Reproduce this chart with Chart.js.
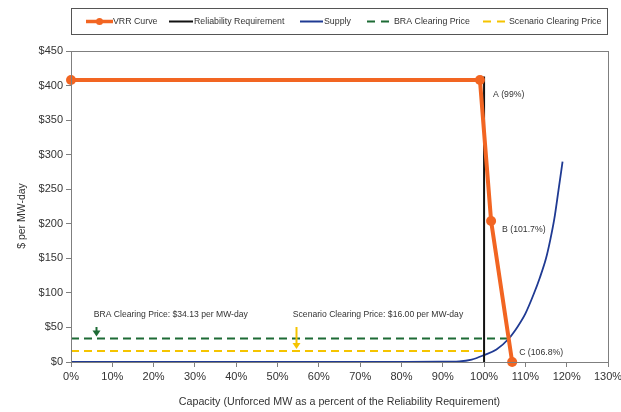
<!DOCTYPE html>
<html>
<head>
<meta charset="utf-8">
<script src="https://cdn.jsdelivr.net/npm/chart.js@4.4.0/dist/chart.umd.min.js"></script>
<style>
  html, body { margin: 0; padding: 0; background: #fff; }
  #wrap { position: relative; width: 621px; height: 412px; }
</style>
</head>
<body>
<div id="wrap"><canvas id="vrrChart" width="621" height="412"></canvas></div>
<script>
// Datos de la curva VRR (porcentaje del requisito, $/MW-day)
const vrrX = [0, 99, 101.7, 106.8];
const vrrY = [408, 408, 204, 0];
const vrrLabels = ['', 'A (99%)', 'B (101.7%)', 'C (106.8%)'];

const reqX = [100, 100];
const reqY = [0, 413];

const supplyX = [0, 20, 40, 60, 80, 89, 94, 97, 100, 103, 106, 108, 110, 112, 113.5, 115, 116, 117, 118, 119];
const supplyY = [0, 0, 0, 0.1, 0.3, 0.5, 1, 3.5, 10, 18, 34, 50, 70, 98, 122, 150, 176, 207, 248, 290];

const braX = [0, 106];
const braPrice = 34.13;
const scenX = [0, 100.5];
const scenPrice = 16;

const xTicks = [0, 10, 20, 30, 40, 50, 60, 70, 80, 90, 100, 110, 120, 130];
const yTicks = [0, 50, 100, 150, 200, 250, 300, 350, 400, 450];

// Notas con flecha: posición x del texto/flecha en datos
const notes = [
    { text: 'BRA Clearing Price: $34.13 per MW-day', x: 5.5, arrowX: 6, price: braPrice, color: '#1d6b35' },
    { text: 'Scenario Clearing Price: $16.00 per MW-day', x: 53.7, arrowX: 54.5, price: scenPrice, color: '#f5c400' }
];

const FONT = '"Liberation Sans", Arial, sans-serif';
const TXT = '#333333';

function pts(xs, ys) {
    return xs.map((x, i) => ({ x: x, y: ys[i] }));
}

const legendItems = [
    { label: 'VRR Curve', color: '#f26522', width: 3.5, dash: [], dot: true, x0: 86, x1: 113, tx: 113 },
    { label: 'Reliability Requirement', color: '#111111', width: 2, dash: [], x0: 169, x1: 193, tx: 194 },
    { label: 'Supply', color: '#1f3a93', width: 2, dash: [], x0: 300, x1: 323, tx: 324 },
    { label: 'BRA Clearing Price', color: '#1d6b35', width: 2, dash: [8, 6], x0: 367, x1: 389, tx: 394 },
    { label: 'Scenario Clearing Price', color: '#f5c400', width: 2, dash: [8, 6], x0: 483, x1: 505, tx: 509 }
];

// Dibuja marco, leyenda y anotaciones
const decorPlugin = {
    id: 'decor',
    afterDraw(chart) {
        const ctx = chart.ctx;
        const a = chart.chartArea;
        const xs = chart.scales.x, ys = chart.scales.y;
        ctx.save();

        // marco del área de trazado
        ctx.strokeStyle = '#7f7f7f';
        ctx.lineWidth = 1;
        ctx.strokeRect(Math.round(a.left) + 0.5, Math.round(a.top) + 0.5, Math.round(a.right - a.left), Math.round(a.bottom - a.top));

        // leyenda
        ctx.strokeStyle = '#555';
        ctx.strokeRect(71.5, 8.5, 536, 26);
        ctx.font = '8.8px ' + FONT;
        ctx.textBaseline = 'middle';
        legendItems.forEach(it => {
            const y0 = 21.5;
            ctx.beginPath();
            ctx.setLineDash(it.dash);
            ctx.strokeStyle = it.color;
            ctx.lineWidth = it.width;
            ctx.moveTo(it.x0, y0);
            ctx.lineTo(it.x1, y0);
            ctx.stroke();
            ctx.setLineDash([]);
            if (it.dot) {
                ctx.beginPath();
                ctx.fillStyle = it.color;
                ctx.arc((it.x0 + it.x1) / 2, y0, 3.5, 0, Math.PI * 2);
                ctx.fill();
            }
            ctx.fillStyle = TXT;
            ctx.textAlign = 'left';
            ctx.fillText(it.label, it.tx, y0);
        });

        // título del eje y
        ctx.save();
        ctx.translate(22, 216);
        ctx.rotate(-Math.PI / 2);
        ctx.textAlign = 'center';
        ctx.font = '10.5px ' + FONT;
        ctx.fillText('$ per MW-day', 0, 0);
        ctx.restore();

        // etiquetas de los puntos A, B, C
        ctx.font = '8.7px ' + FONT;
        ctx.textAlign = 'left';
        ctx.fillStyle = TXT;
        const offs = [null, [13, 15], [11, 9], [7, -9]];
        vrrX.forEach((vx, i) => {
            if (!vrrLabels[i]) return;
            ctx.fillText(vrrLabels[i], xs.getPixelForValue(vx) + offs[i][0], ys.getPixelForValue(vrrY[i]) + offs[i][1]);
        });

        // textos y flechas de precio de liquidación
        notes.forEach(n => {
            const ty = ys.getPixelForValue(68);
            ctx.fillStyle = TXT;
            ctx.font = '8.6px ' + FONT;
            ctx.fillText(n.text, xs.getPixelForValue(n.x), ty);
            const ax = Math.round(xs.getPixelForValue(n.arrowX)) + 0.5;
            const y1 = ty + 12;
            const y2 = ys.getPixelForValue(n.price) - 2;
            ctx.strokeStyle = n.color;
            ctx.fillStyle = n.color;
            ctx.lineWidth = 2;
            ctx.beginPath();
            ctx.moveTo(ax, y1);
            ctx.lineTo(ax, y2 - 5);
            ctx.stroke();
            ctx.beginPath();
            ctx.moveTo(ax - 4, y2 - 6);
            ctx.lineTo(ax + 4, y2 - 6);
            ctx.lineTo(ax, y2);
            ctx.closePath();
            ctx.fill();
        });
        ctx.restore();
    }
};

const ctxEl = document.getElementById('vrrChart');
new Chart(ctxEl.getContext('2d'), {
    type: 'line',
    data: {
        datasets: [
            {
                label: 'BRA Clearing Price',
                data: pts(braX, [braPrice, braPrice]),
                borderColor: '#1d6b35',
                borderWidth: 2,
                borderDash: [8, 5],
                pointRadius: 0,
                order: 5
            },
            {
                label: 'Scenario Clearing Price',
                data: pts(scenX, [scenPrice, scenPrice]),
                borderColor: '#f5c400',
                borderWidth: 2,
                borderDash: [8, 5],
                pointRadius: 0,
                order: 4
            },
            {
                label: 'Supply',
                data: pts(supplyX, supplyY),
                borderColor: '#1f3a93',
                borderWidth: 1.8,
                pointRadius: 0,
                cubicInterpolationMode: 'monotone',
                order: 3
            },
            {
                label: 'Reliability Requirement',
                data: pts(reqX, reqY),
                borderColor: '#111111',
                borderWidth: 2,
                pointRadius: 0,
                order: 2
            },
            {
                label: 'VRR Curve',
                data: pts(vrrX, vrrY),
                borderColor: '#f26522',
                backgroundColor: '#f26522',
                borderWidth: 4,
                pointRadius: 5,
                pointBorderWidth: 0,
                order: 1
            }
        ]
    },
    options: {
        responsive: false,
        animation: false,
        clip: false,
        layout: { padding: { left: 0, top: 51, right: 13, bottom: 0 } },
        plugins: {
            legend: { display: false },
            tooltip: { enabled: false }
        },
        scales: {
            x: {
                type: 'linear',
                min: 0,
                max: 130,
                afterBuildTicks: s => { s.ticks = xTicks.map(v => ({ value: v })); },
                afterFit: s => { s.height = 50; s.paddingRight = 0; s.paddingLeft = 0; },
                grid: { drawOnChartArea: false, color: '#7f7f7f', tickLength: 5 },
                border: { color: '#7f7f7f' },
                ticks: {
                    color: TXT,
                    font: { family: FONT, size: 11 },
                    padding: 3,
                    maxRotation: 0,
                    callback: v => v + '%'
                },
                title: {
                    display: true,
                    text: 'Capacity (Unforced MW as a percent of the Reliability Requirement)',
                    color: TXT,
                    font: { family: FONT, size: 10.7 },
                    padding: { top: 15 }
                }
            },
            y: {
                min: 0,
                max: 450,
                afterBuildTicks: s => { s.ticks = yTicks.map(v => ({ value: v })); },
                afterFit: s => { s.width = 71; },
                grid: { drawOnChartArea: false, color: '#7f7f7f', tickLength: 5 },
                border: { color: '#7f7f7f' },
                ticks: {
                    color: TXT,
                    font: { family: FONT, size: 11 },
                    padding: 3,
                    callback: v => '$' + v
                }
            }
        }
    },
    plugins: [decorPlugin]
});
</script>
</body>
</html>
